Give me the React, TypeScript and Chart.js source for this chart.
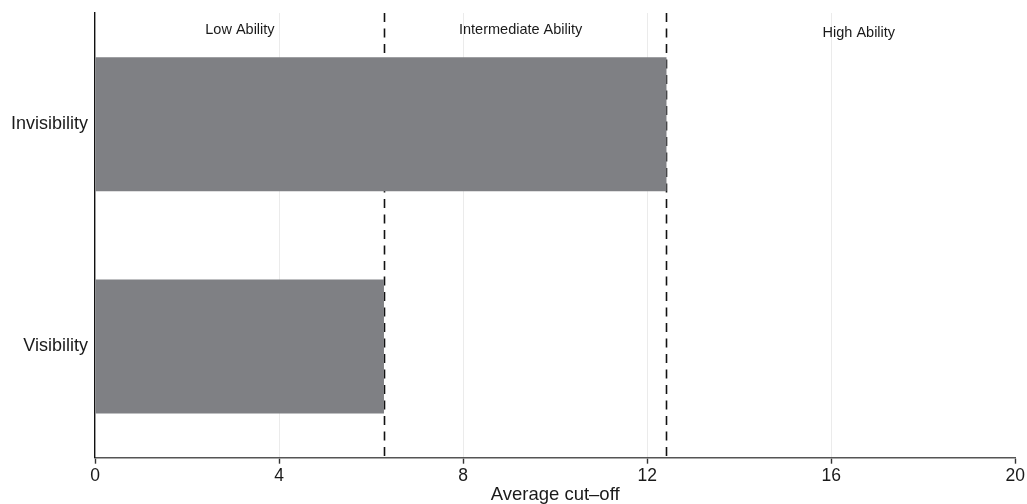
import React, { useEffect, useRef } from "react";
import { Chart, registerables } from "chart.js";

Chart.register(...registerables);

const categories = ["Invisibility", "Visibility"];
const cutoffValues = [12.42, 6.28];
const thresholds = [6.28, 12.42];
const regionLabels = ["Low Ability", "Intermediate Ability", "High Ability"];
const regionLabelX = [3.15, 9.25, 16.6];
const regionLabelY = [30, 30, 33];
const xTicks = [0, 4, 8, 12, 16, 20];

const FONT = "'Liberation Sans', Arial, Helvetica, sans-serif";

const overlayPlugin = {
  id: "abilityOverlay",
  beforeDatasetsDraw(chart: any) {
    const { ctx, chartArea, scales } = chart;
    const x = scales.x;
    ctx.save();
    ctx.strokeStyle = "#111111";
    ctx.lineWidth = 1.6;
    ctx.setLineDash([9, 6.5]);
    thresholds.forEach((v) => {
      const px = Math.round(x.getPixelForValue(v)) + 0.5;
      ctx.beginPath();
      ctx.moveTo(px, chartArea.top);
      ctx.lineTo(px, chartArea.bottom);
      ctx.stroke();
    });
    ctx.restore();
  },
  afterDatasetsDraw(chart: any) {
    const { ctx, scales } = chart;
    const x = scales.x;
    ctx.save();
    ctx.fillStyle = "#1a1a1a";
    ctx.font = `14.5px ${FONT}`;
    ctx.textAlign = "center";
    ctx.textBaseline = "middle";
    regionLabels.forEach((t, i) => {
      ctx.fillText(t, x.getPixelForValue(regionLabelX[i]), regionLabelY[i]);
    });
    ctx.restore();
  },
};

export default function App() {
  const ref = useRef<HTMLCanvasElement | null>(null);

  useEffect(() => {
    if (!ref.current) return;
    const chart = new Chart(ref.current, {
      type: "bar",
      data: {
        labels: categories,
        datasets: [
          {
            data: cutoffValues,
            backgroundColor: "#7f8084",
            borderWidth: 0,
            categoryPercentage: 1,
            barPercentage: 0.603,
          },
        ],
      },
      options: {
        indexAxis: "y",
        animation: false,
        responsive: false,
        layout: { padding: { top: 13, right: 11, left: 0, bottom: 0 } },
        plugins: {
          legend: { display: false },
          tooltip: { enabled: false },
          title: { display: false },
        },
        scales: {
          x: {
            type: "linear",
            min: 0,
            max: 20,
            afterBuildTicks: (scale: any) => {
              scale.ticks = xTicks.map((v) => ({ value: v }));
            },
            afterFit: (scale: any) => {
              scale.height = 46.3;
            },
            ticks: {
              color: "#1a1a1a",
              font: { family: FONT, size: 17.5 },
              padding: 2,
              maxRotation: 0,
              autoSkip: false,
            },
            grid: {
              color: (c: any) =>
                c.tick && (c.tick.value === 0 || c.tick.value === 20) ? "rgba(0,0,0,0)" : "#ebebeb",
              lineWidth: 1,
              drawTicks: true,
              tickLength: 6,
              tickColor: "#333333",
              tickWidth: 1.4,
            },
            border: { display: true, color: "#555555", width: 1.6 },
            title: {
              display: true,
              text: "Average cut\u2013off",
              color: "#1a1a1a",
              font: { family: FONT, size: 18.5, lineHeight: 1 },
              padding: { top: 0, bottom: 0 },
            },
          },
          y: {
            type: "category",
            afterFit: (scale: any) => {
              scale.width = 95;
              scale.paddingTop = 0;
              scale.paddingBottom = 0;
            },
            ticks: {
              color: "#1a1a1a",
              font: { family: FONT, size: 18 },
              padding: 7,
            },
            grid: { display: false, drawTicks: false },
            border: { display: true, color: "#111111", width: 1.4 },
          },
        },
      },
      plugins: [overlayPlugin],
    });
    return () => chart.destroy();
  }, []);

  return (
    <div style={{ position: "absolute", left: 0, top: 0, width: 1027, height: 504, background: "#ffffff" }}>
      <canvas ref={ref} width={1027} height={504} style={{ display: "block" }} />
    </div>
  );
}
